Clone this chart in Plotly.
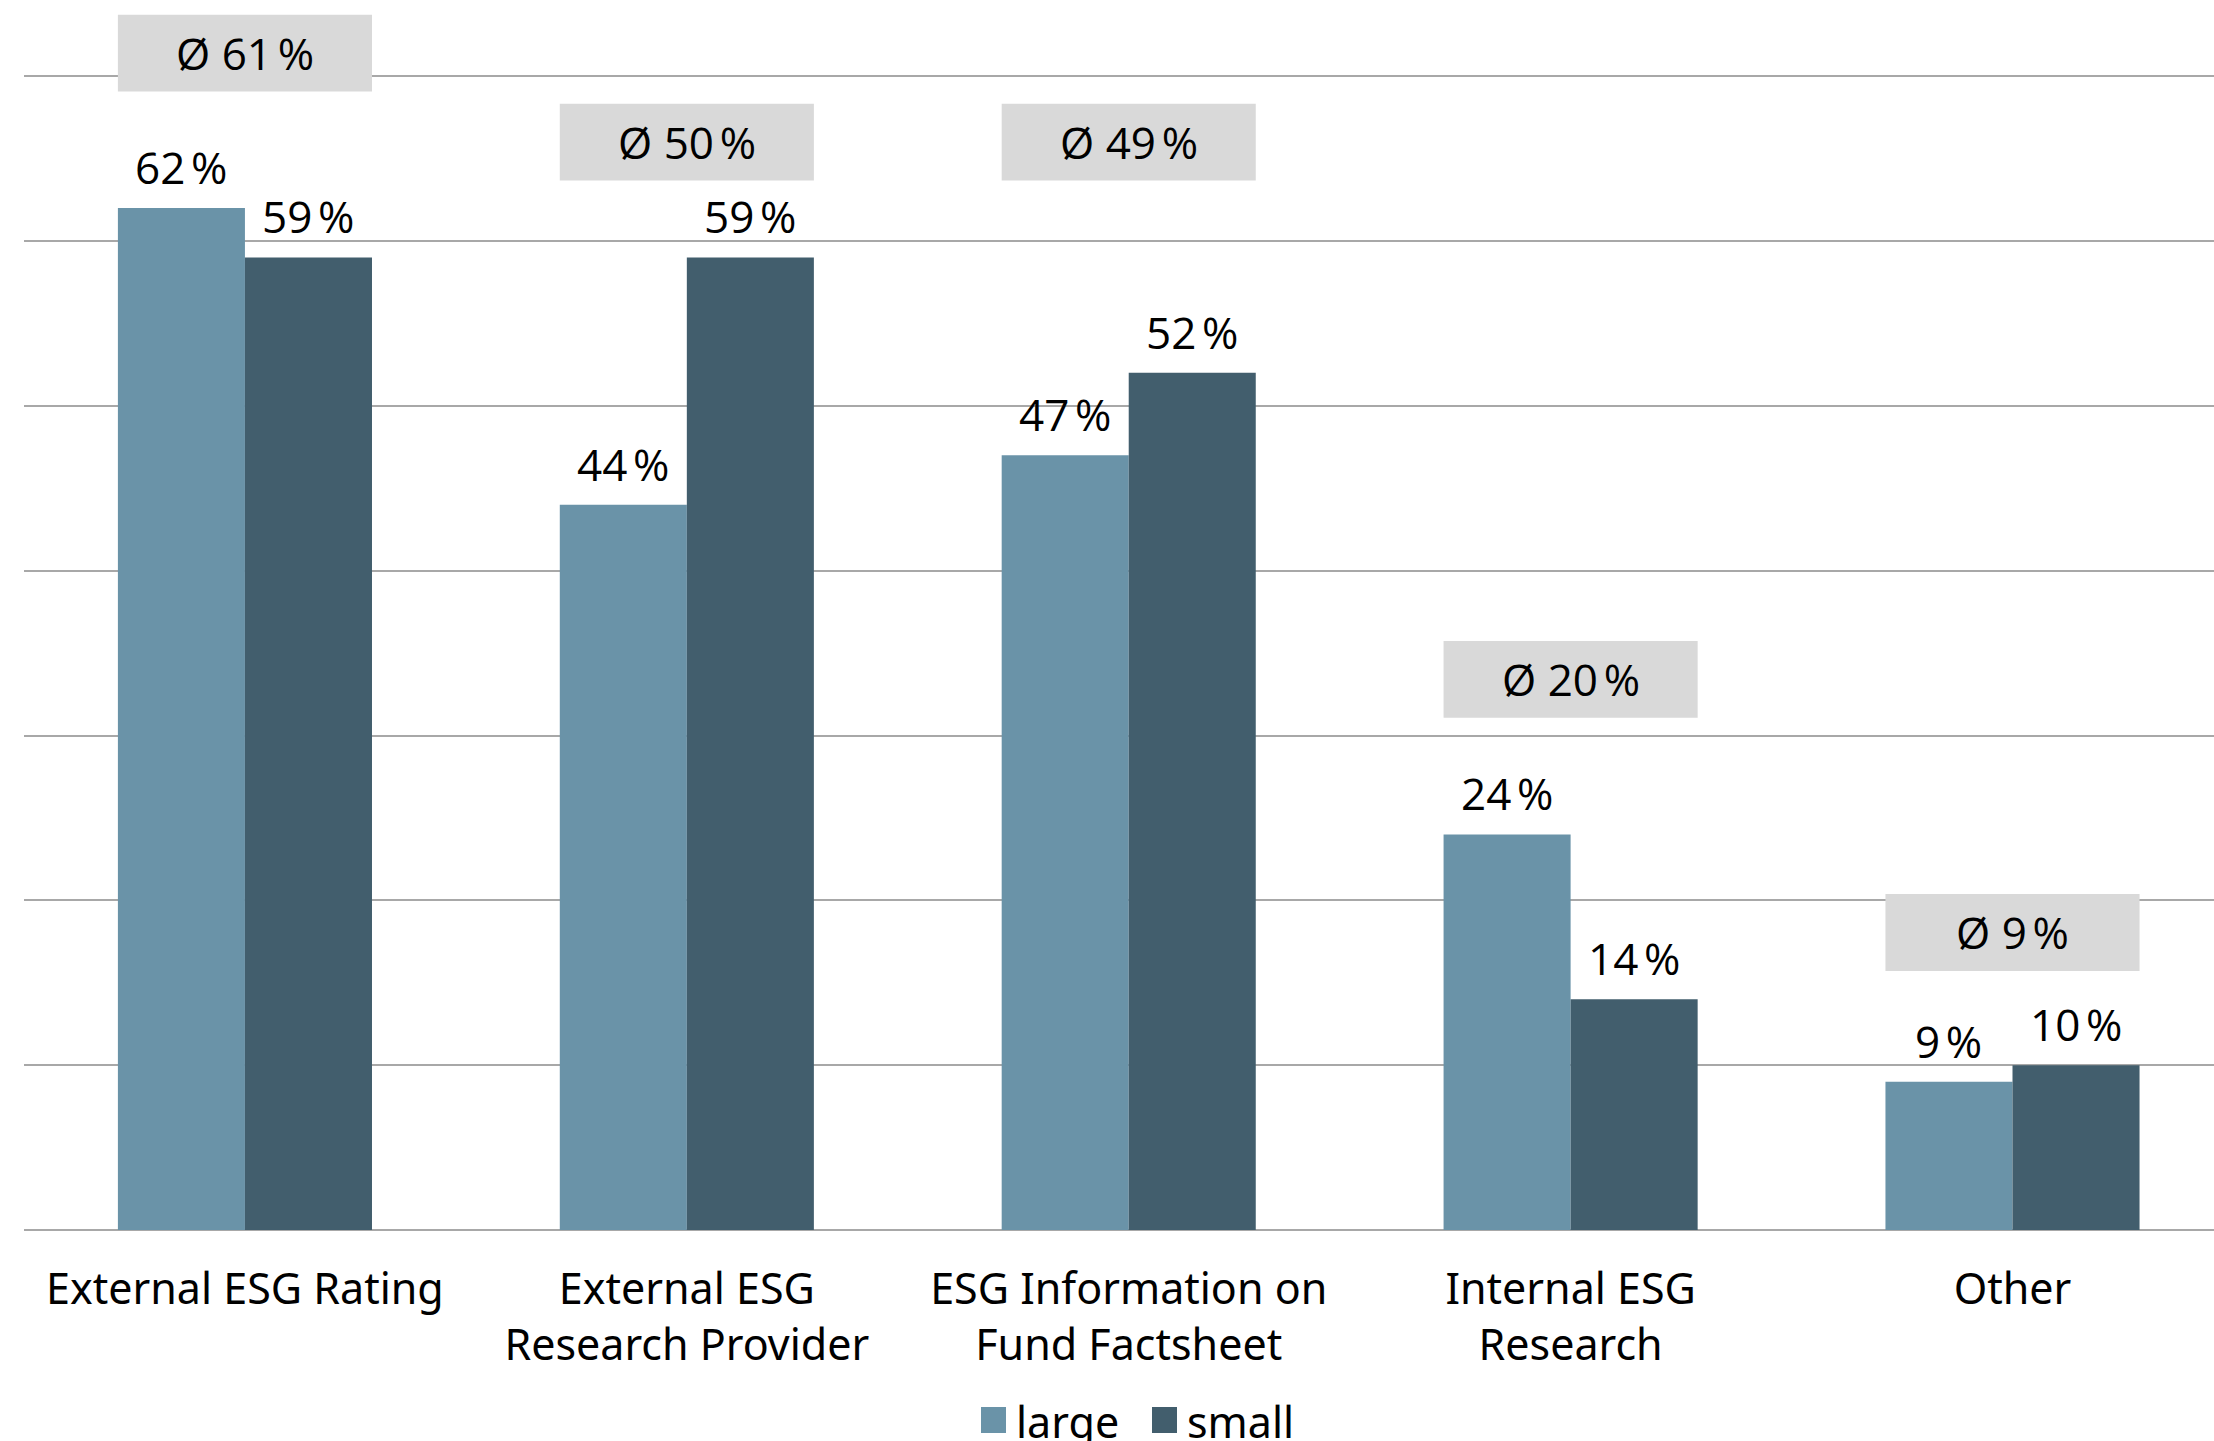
import plotly.graph_objects as go

# Data
categories = [
    "External ESG Rating",
    "External ESG<br>Research Provider",
    "ESG Information on<br>Fund Factsheet",
    "Internal ESG<br>Research",
    "Other",
]
large = [62, 44, 47, 24, 9]
small = [59, 59, 52, 14, 10]
averages = [61, 50, 49, 20, 9]
# vertical centre (in axis units) of each average badge
badge_y = [71.4, 66.0, 66.0, 33.4, 18.05]

COLOR_LARGE = "#6a93a8"
COLOR_SMALL = "#425e6d"
GRID = "#a8a8a8"
BADGE = "#d9d9d9"
LABEL_FONT = "Open Sans"
AXIS_FONT = "Noto Sans"

x_idx = list(range(len(categories)))
BAR_HALF = 0.14375  # half of one bar's width in category units

fig = go.Figure()
for name, vals, col in [("large", large, COLOR_LARGE), ("small", small, COLOR_SMALL)]:
    fig.add_trace(go.Bar(
        name=name,
        x=x_idx,
        y=vals,
        marker=dict(color=col, line=dict(width=0)),
        showlegend=False,
    ))

shapes = []
annotations = []

# value labels above each bar
for vals, side in [(large, -1), (small, 1)]:
    for i, v in enumerate(vals):
        annotations.append(dict(
            x=i + side * BAR_HALF, y=v, xref="x", yref="y",
            text=f"{v}\u202f%", showarrow=False,
            xanchor="center", yanchor="bottom", yshift=9,
            font=dict(family=LABEL_FONT, size=44, color="black"),
        ))

# average badges
half_w = 2 * BAR_HALF
half_h = 2.33
for i, (avg, yc) in enumerate(zip(averages, badge_y)):
    shapes.append(dict(
        type="rect", xref="x", yref="y",
        x0=i - half_w, x1=i + half_w, y0=yc - half_h, y1=yc + half_h,
        fillcolor=BADGE, line=dict(width=0), layer="above",
    ))
    annotations.append(dict(
        x=i, y=yc, xref="x", yref="y",
        text=f"\u00d8 {avg}\u202f%", showarrow=False,
        font=dict(family=LABEL_FONT, size=44, color="black"),
        xanchor="center", yanchor="middle",
    ))

# Legend drawn as squares + labels below the axis
def px_x(X):
    return (X - 24) / 2190.0

def px_y(Y):
    return (1230 - Y) / 1228.0

legend_items = [("large", COLOR_LARGE, 981), ("small", COLOR_SMALL, 1152)]
for label, col, x0 in legend_items:
    shapes.append(dict(
        type="rect", xref="paper", yref="paper",
        x0=px_x(x0), x1=px_x(x0 + 25), y0=px_y(1433), y1=px_y(1407),
        fillcolor=col, line=dict(width=0),
    ))
    annotations.append(dict(
        x=px_x(x0 + 33), y=px_y(1421), xref="paper", yref="paper",
        text=label, showarrow=False, xanchor="left", yanchor="middle",
        font=dict(family=AXIS_FONT, size=43, color="black"),
    ))

fig.update_layout(
    width=2214, height=1441,
    margin=dict(l=24, r=0, t=2, b=211),
    paper_bgcolor="white", plot_bgcolor="white",
    barmode="group", bargap=0.425, bargroupgap=0,
    shapes=shapes, annotations=annotations,
    showlegend=False,
    xaxis=dict(
        tickmode="array", tickvals=x_idx, ticktext=categories,
        range=[-0.5, 4.456],
        tickfont=dict(family=AXIS_FONT, size=43, color="black"),
        showgrid=False, showline=False, zeroline=False,
        ticks="", ticklabelstandoff=30,
    ),
    yaxis=dict(
        range=[0, 74.5], dtick=10, tick0=0,
        showgrid=True, gridcolor=GRID, gridwidth=2,
        zeroline=True, zerolinecolor=GRID, zerolinewidth=2,
        showticklabels=False, showline=False, ticks="",
    ),
)

fig.write_html("out.html")
